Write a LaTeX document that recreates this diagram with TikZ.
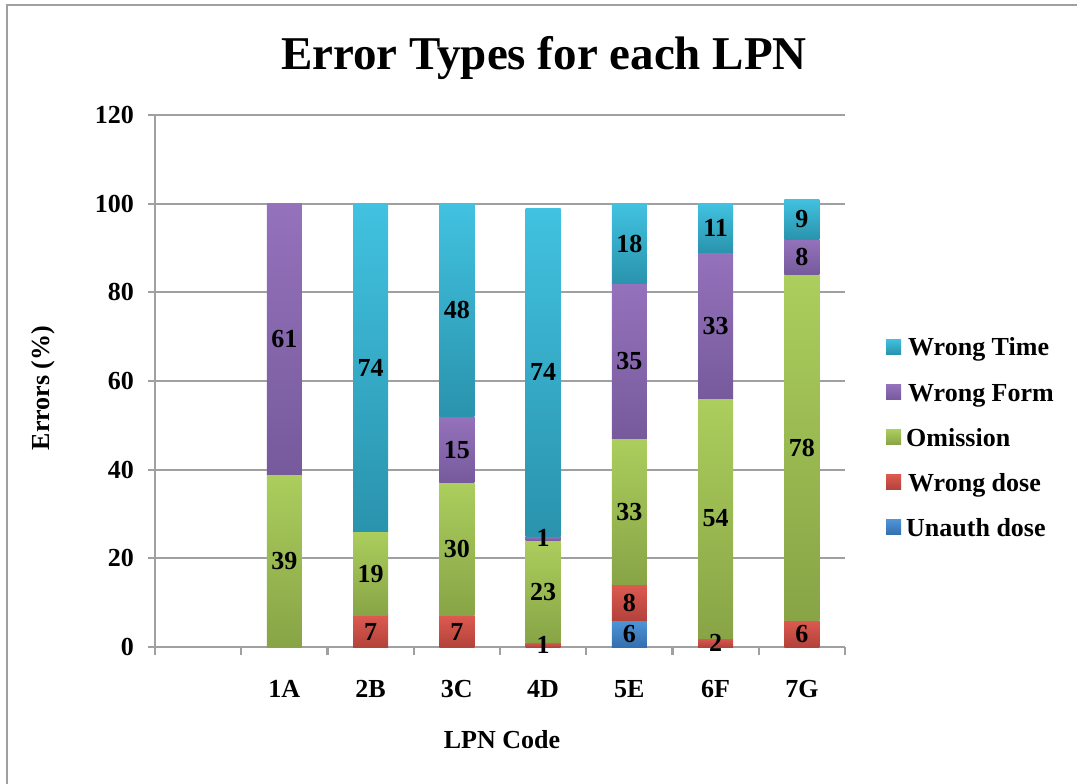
\documentclass[tikz,border=0pt]{standalone}
\usepackage{fontspec}
\setmainfont{Liberation Serif}
\pgfdeclarelayer{fg}
\pgfsetlayers{main,fg}
\definecolor{gridc}{HTML}{A0A0A0}
\definecolor{timeT}{HTML}{41C2E0}\definecolor{timeB}{HTML}{2A93AD}
\definecolor{formT}{HTML}{9572BC}\definecolor{formB}{HTML}{765A9C}
\definecolor{omisT}{HTML}{ABCE5D}\definecolor{omisB}{HTML}{88A446}
\definecolor{doseT}{HTML}{DC5A50}\definecolor{doseB}{HTML}{B3423B}
\definecolor{unauT}{HTML}{4D95D8}\definecolor{unauB}{HTML}{356FAE}
\newcommand\yv[1]{647-(#1)*4.4333}
% #1 category, #2 start, #3 value, #4 colour prefix, #5 name
\newcommand\bseg[5]{%
  \pgfmathsetmacro\xc{155+86.25*(#1+0.5)}%
  \pgfmathsetmacro\ya{\yv{#2}}%
  \pgfmathsetmacro\yb{\yv{#2+#3}}%
  \pgfmathsetmacro\ym{\yv{#2+#3/2}}%
  \path[top color=#4T, bottom color=#4B] (\xc-17.5,\ya) rectangle (\xc+17.5,\yb);
  \begin{pgfonlayer}{fg}\node[lab] (#5) at (\xc,\ym) {#3};\end{pgfonlayer}}
\begin{document}
\begin{tikzpicture}[x=1pt,y=-1pt,
  font=\bfseries\fontsize{26}{30}\selectfont,
  grid/.style={draw=gridc, line width=2.2pt},
  lab/.style={inner sep=0pt},
  legtxt/.style={anchor=base west, inner sep=0pt}]
\useasboundingbox (0,0) rectangle (1077,784);
\draw[gridc, line width=2.5pt] (7,790) -- (7,5) -- (1085,5);
\node (title) at (544,58) {\fontsize{47}{52}\selectfont Error Types for each LPN};
% grid and y ticks
\foreach \v in {0,20,...,120}{
  \pgfmathsetmacro\gy{\yv{\v}}
  \draw[grid] (148,\gy) -- (845,\gy);
  \node[lab, anchor=east] (yt\v) at (134,\gy) {\v};
}
\draw[grid] (155,115) -- (155,655);
\foreach \i in {1,...,8}{
  \pgfmathsetmacro\tx{155+86.25*\i}
  \draw[grid] (\tx,647) -- (\tx,655);
}
% x labels
\foreach \c/\t in {1/1A,2/2B,3/3C,4/4D,5/5E,6/6F,7/7G}{
  \pgfmathsetmacro\xc{155+86.25*(\c+0.5)}
  \node[lab] (xl\c) at (\xc,689) {\t};
}
\node (xtitle) at (502,740) {LPN Code};
\node[rotate=90] (ytitle) at (43,388) {Errors (\%)};
% bars
\bseg{1}{0}{39}{omis}{a3}
\bseg{1}{39}{61}{form}{a4}
\bseg{2}{0}{7}{dose}{b2}
\bseg{2}{7}{19}{omis}{b3}
\bseg{2}{26}{74}{time}{b5}
\bseg{3}{0}{7}{dose}{c2}
\bseg{3}{7}{30}{omis}{c3}
\bseg{3}{37}{15}{form}{c4}
\bseg{3}{52}{48}{time}{c5}
\bseg{4}{0}{1}{dose}{d2}
\bseg{4}{1}{23}{omis}{d3}
\bseg{4}{24}{1}{form}{d4}
\bseg{4}{25}{74}{time}{d5}
\bseg{5}{0}{6}{unau}{e1}
\bseg{5}{6}{8}{dose}{e2}
\bseg{5}{14}{33}{omis}{e3}
\bseg{5}{47}{35}{form}{e4}
\bseg{5}{82}{18}{time}{e5}
\bseg{6}{0}{2}{dose}{f2}
\bseg{6}{2}{54}{omis}{f3}
\bseg{6}{56}{33}{form}{f4}
\bseg{6}{89}{11}{time}{f5}
\bseg{7}{0}{6}{dose}{g2}
\bseg{7}{6}{78}{omis}{g3}
\bseg{7}{84}{8}{form}{g4}
\bseg{7}{92}{9}{time}{g5}
% legend
\foreach \k/\yc/\t/\dx in {time/346.5/Wrong Time/908, form/392/Wrong Form/908, omis/437/Omission/906, dose/482/Wrong dose/908, unau/527/Unauth dose/906}{
  \path[top color=\k T, bottom color=\k B] (886,\yc-7.5) rectangle (901,\yc+7.5);
  \node[legtxt] (leg\k) at (\dx,\yc+9) {\t};
}
\end{tikzpicture}
\end{document}
